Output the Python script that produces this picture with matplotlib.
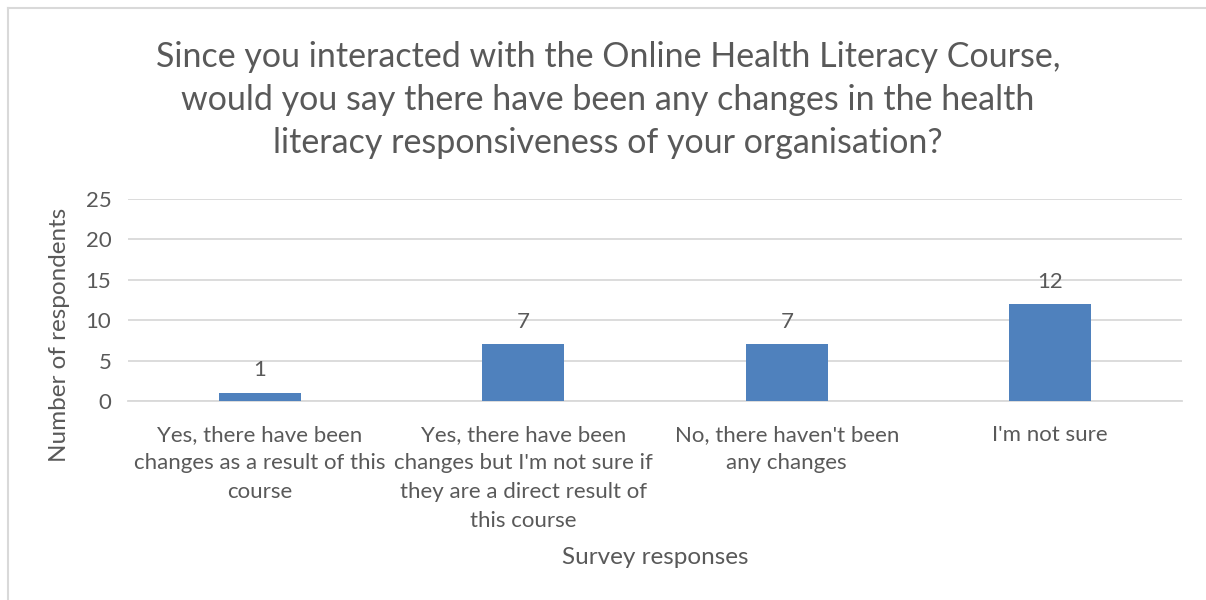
import matplotlib.pyplot as plt
from matplotlib.lines import Line2D
import numpy as np

categories = [
    "Yes, there have been\nchanges as a result of this\ncourse",
    "Yes, there have been\nchanges but I'm not sure if\nthey are a direct result of\nthis course",
    "No, there haven't been\nany changes",
    "I'm not sure",
]
counts = [1, 7, 7, 12]
yticks = [0, 5, 10, 15, 20, 25]

title = ("Since you interacted with the Online Health Literacy Course,\n"
         "would you say there have been any changes in the health\n"
         "literacy responsiveness of your organisation?")

grey = "#595959"
plt.rcParams['font.family'] = ['Lato', 'DejaVu Sans']

W, H = 1206, 600
fig = plt.figure(figsize=(W / 100, H / 100), dpi=100)
# light frame (left and top edges only are visible in the reference)
fig.add_artist(Line2D([8 / W, 8 / W], [0, 1 - 8 / H], transform=fig.transFigure,
                      color="#d9d9d9", linewidth=1.5))
fig.add_artist(Line2D([8 / W, 1], [1 - 8 / H, 1 - 8 / H], transform=fig.transFigure,
                      color="#d9d9d9", linewidth=1.5))

ax_h = 202
ax_w = 1182 - 128
ax = fig.add_axes([128 / W, 1 - 401 / H, ax_w / W, ax_h / H])
x = np.arange(len(categories))
bars = ax.bar(x, counts, width=0.31, color="#4f81bd", zorder=3)

ax.set_xlim(-0.5, len(categories) - 0.5)
ax.set_ylim(0, 25)
ax.set_yticks(yticks)
ax.yaxis.grid(True, color="#d9d9d9", linewidth=1.3, zorder=0)
for s in ["top", "right", "left"]:
    ax.spines[s].set_visible(False)
ax.spines["bottom"].set_color("#d9d9d9")
ax.spines["bottom"].set_linewidth(1.3)
ax.tick_params(axis="both", length=0, colors=grey, labelsize=16)
ax.tick_params(axis="y", pad=12)
ax.tick_params(axis="x", pad=17)
ax.set_xticks(x)
ax.set_xticklabels(categories, linespacing=1.55)

for b, v in zip(bars, counts):
    ax.annotate(str(v), (b.get_x() + b.get_width() / 2, v),
                xytext=(0, 9), textcoords="offset points",
                ha="center", va="bottom", fontsize=16, color=grey)

ax.set_ylabel("Number of respondents", fontsize=17.5, color=grey, va="center")
ax.yaxis.set_label_coords((60 - 128) / ax_w, (401 - 335) / ax_h)
ax.set_xlabel("Survey responses", fontsize=17.5, color=grey, va="center")
ax.xaxis.set_label_coords((655 - 128) / ax_w, (401 - 557) / ax_h)

fig.text(608 / W, 1 - 100 / H, title, ha="center", va="center",
         fontsize=24.5, color=grey, linespacing=1.42)

fig.savefig("out.png", dpi=100)
